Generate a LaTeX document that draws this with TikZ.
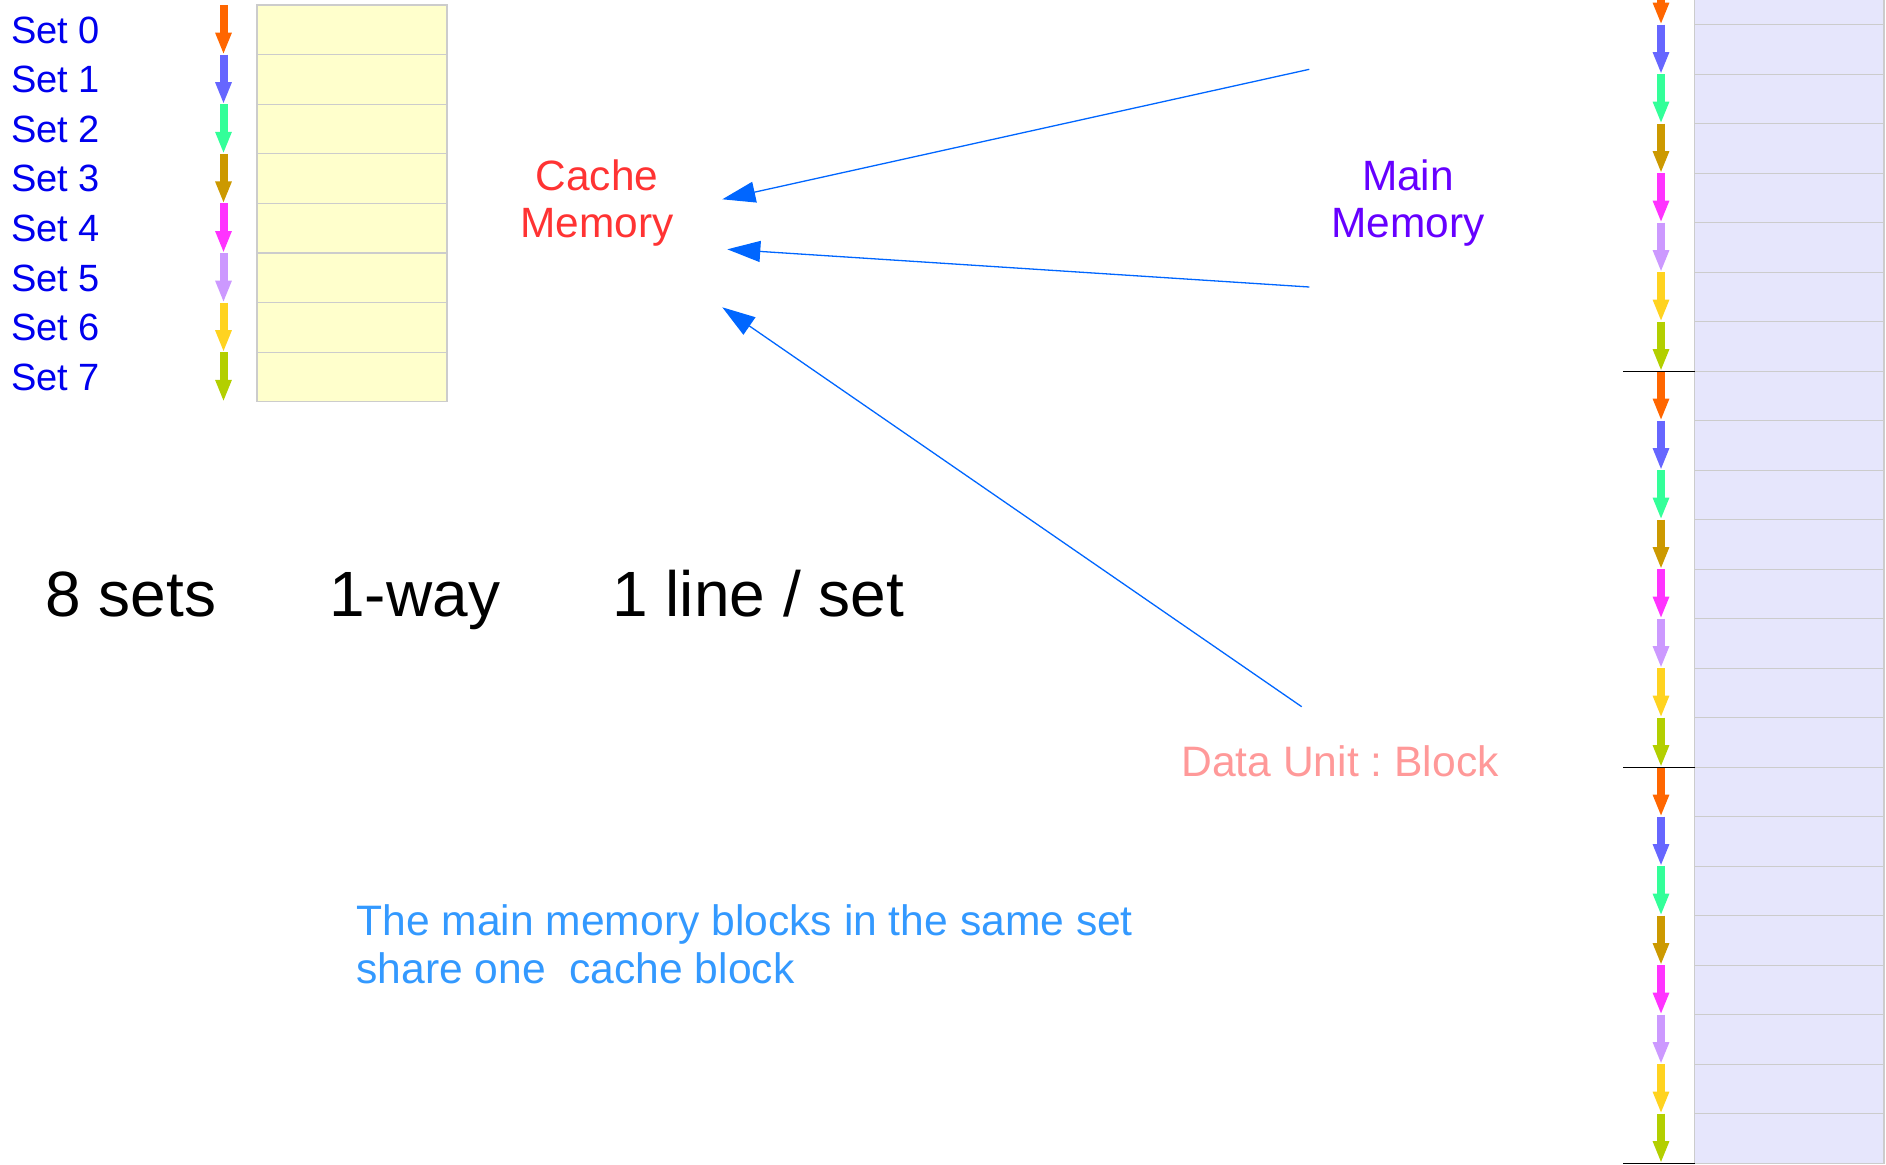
\documentclass[tikz,border=0pt]{standalone}
\usepackage{fontspec}
\setmainfont{Liberation Sans}
\usetikzlibrary{arrows.meta}

\definecolor{setblue}{HTML}{0000EE}
\definecolor{cachered}{HTML}{FF3333}
\definecolor{mainpurple}{HTML}{6600FF}
\definecolor{unitpink}{HTML}{FF9999}
\definecolor{noteblue}{HTML}{3399FF}
\definecolor{linkblue}{HTML}{0066FF}
\definecolor{cachefill}{HTML}{FFFFCC}
\definecolor{memfill}{HTML}{E6E6FC}
\definecolor{cellline}{HTML}{CCCCCC}
% one colour per set
\definecolor{set0}{HTML}{FF6600}
\definecolor{set1}{HTML}{6666FF}
\definecolor{set2}{HTML}{33FF99}
\definecolor{set3}{HTML}{CC9900}
\definecolor{set4}{HTML}{FF33FF}
\definecolor{set5}{HTML}{CC99FF}
\definecolor{set6}{HTML}{FFD320}
\definecolor{set7}{HTML}{B3CF00}

\tikzset{
  cell/.style={draw=cellline, line width=0.6pt},
  setarrow/.style={line width=4pt, -{Triangle[length=11pt,width=7.5pt]}},
  link/.style={draw=linkblue, line width=0.65pt, -{Triangle[length=16.5pt,width=10.5pt]}},
  setlabel/.style={text=setblue, font=\fontsize{19}{22}\selectfont, anchor=base west, inner sep=0pt},
  title/.style={font=\fontsize{21.2}{23.6}\selectfont, align=center, anchor=base, inner sep=0pt},
  bigtext/.style={font=\fontsize{32}{38}\selectfont, anchor=base west, inner sep=0pt},
}

\begin{document}
\begin{tikzpicture}[x=0.5pt,y=-0.5pt]
\useasboundingbox (0,0) rectangle (1886,1164);
\clip (0,0) rectangle (1886,1164);

% cache: 8 sets, 1 line each
\foreach \i in {0,...,7} {
  \path[cell, fill=cachefill] (257,{5+49.6*\i}) rectangle (447,{5+49.6*(\i+1)});
  \draw[setarrow, color=set\i] (223.5,{5+49.6*\i}) -- (223.5,{5+49.6*(\i+1)});
  \node[setlabel] (set\i) at (11,{43+49.6*\i}) {Set \i};
}

% main memory, blocks cycle through the sets
\foreach \k in {0,...,23} {
  \pgfmathtruncatemacro\c{mod(\k,8)}
  \path[cell, fill=memfill] (1694.5,{-24.9+49.5*\k}) rectangle (1884,{-24.9+49.5*(\k+1)});
  \draw[setarrow, color=set\c] (1661,{-24.9+49.5*\k}) -- (1661,{-24.9+49.5*(\k+1)});
}
\foreach \y in {371.1,767.1,1163.1}
  \draw[line width=0.6pt] (1623,\y) -- (1694.5,\y);

% base anchor sits on the last line
\node[title, text=cachered] (cache) at (597,237.5) {Cache\\Memory};
\node[title, text=mainpurple] (main) at (1408,237.5) {Main\\Memory};

\node[bigtext] (nsets) at (45,616) {8 sets};
\node[bigtext] (nway) at (329,616) {1-way};
\node[bigtext] (nline) at (612,616) {1 line / set};

\node[font=\fontsize{21.3}{25}\selectfont, text=unitpink, anchor=base west, inner sep=0pt] (unit) at (1181,776.7) {Data Unit :\ Block};

\node[font=\fontsize{21.3}{24.15}\selectfont, text=noteblue, align=left, anchor=base west, inner sep=0pt] (note) at (356,983.3)
  {The main memory blocks in the same set\\share one\ \ cache block};

% mapping arrows
\coordinate (m1) at (1309.3,69.3);
\coordinate (c1) at (722.3,199.3);
\coordinate (m2) at (1309.3,287);
\coordinate (c2) at (727.3,249.3);
\coordinate (u1) at (1301.7,706.7);
\coordinate (c3) at (722.3,307.3);
\draw[link] (m1) -- (c1);
\draw[link] (m2) -- (c2);
\draw[link] (u1) -- (c3);

\end{tikzpicture}
\end{document}
